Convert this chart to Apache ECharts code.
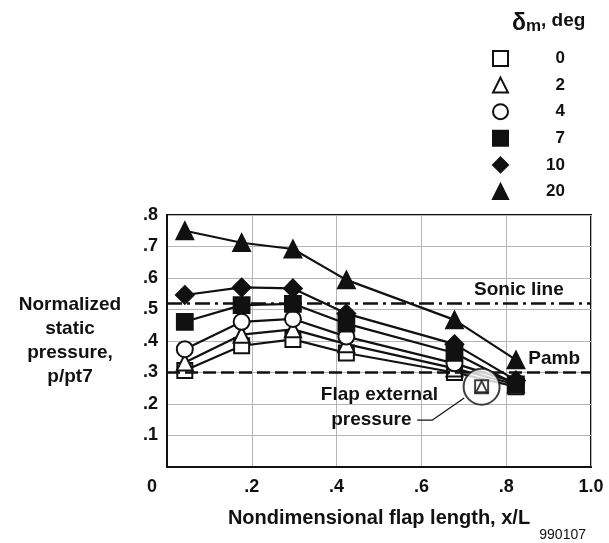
<!DOCTYPE html>
<html>
<head>
<meta charset="utf-8">
<script src="https://cdn.jsdelivr.net/npm/echarts@6/dist/echarts.min.js"></script>
<style>
  html, body { margin: 0; padding: 0; background: #fff; }
  #chart { width: 609px; height: 543px; }
</style>
</head>
<body>
<div id="chart"></div>
<script>
// nondimensional flap length stations
const xStations = [0.042, 0.176, 0.297, 0.423, 0.678, 0.823]

// normalized static pressure per mixer deflection (deg)
const p0 = [0.306, 0.385, 0.405, 0.362, 0.300, 0.255]
const p2 = [0.332, 0.420, 0.437, 0.390, 0.313, 0.262]
const p4 = [0.374, 0.461, 0.470, 0.414, 0.329, 0.268]
const p7 = [0.461, 0.514, 0.518, 0.455, 0.362, 0.262]
const p10 = [0.546, 0.570, 0.567, 0.487, 0.390, 0.275]
const p20 = [0.750, 0.712, 0.692, 0.594, 0.467, 0.340]

const deflections = ['0', '2', '4', '7', '10', '20']
const symbols = ['emptyRect', 'emptyTriangle', 'emptyCircle', 'rect', 'diamond', 'triangle']
const symbolSizes = [15, 16, 16, 16, 18, 17]
const pressures = [p0, p2, p4, p7, p10, p20]

// reference levels
const sonicLine = 0.523
const pambLine = 0.303

// flap external pressure point (circled)
const flapExtX = 0.742
const flapExtY = 0.255
const leaderX = [0.590, 0.626, 0.701]
const leaderY = [0.149, 0.149, 0.219]

const xTicks = ['0', '.2', '.4', '.6', '.8', '1.0']

const FONT = '"Liberation Sans", Arial, sans-serif'
const ink = '#111'

const chart = echarts.init(document.getElementById('chart'), null, { renderer: 'canvas' })

const series = deflections.map((d, i) => ({
  name: d,
  type: 'line',
  data: xStations.map((x, k) => [x, pressures[i][k]]),
  symbol: symbols[i],
  symbolSize: symbolSizes[i],
  showAllSymbol: true,
  lineStyle: { color: ink, width: 2.2 },
  itemStyle: { color: ink, borderColor: ink, borderWidth: 1.8 },
  z: 3 + i,
  silent: true,
  animation: false,
}))

series.push({
  name: 'refs',
  type: 'line',
  data: [],
  animation: false,
  markLine: {
    silent: true,
    symbol: 'none',
    label: { show: false },
    data: [
      { yAxis: sonicLine, lineStyle: { type: [15, 5, 3, 5], width: 2.5, color: ink } },
      { yAxis: pambLine, lineStyle: { type: [13, 5], width: 2.5, color: ink } },
    ],
  },
  markPoint: {
    silent: true,
    symbol: 'circle',
    symbolSize: 0,
    label: {
      show: true,
      color: ink,
      fontFamily: FONT,
      fontWeight: 'bold',
      fontSize: 19,
      formatter: (p) => p.name,
    },
    data: [
      { name: 'Sonic line', coord: [0.83, 0.562] },
      { name: 'Pamb', coord: [0.913, 0.343] },
      { name: 'Flap external', coord: [0.501, 0.229] },
      { name: 'pressure', coord: [0.482, 0.149] },
    ],
  },
})

series.push({
  name: 'leader',
  type: 'line',
  data: leaderX.map((x, k) => [x, leaderY[k]]),
  symbol: 'none',
  lineStyle: { color: ink, width: 1.2 },
  silent: true,
  animation: false,
})

series.push({
  name: 'flapExt',
  type: 'scatter',
  data: [
    { value: [flapExtX, flapExtY], symbol: 'emptyCircle', symbolSize: 36 },
    { value: [flapExtX, flapExtY], symbol: 'emptyRect', symbolSize: 13 },
    { value: [flapExtX, flapExtY], symbol: 'emptyTriangle', symbolSize: 11 },
  ],
  itemStyle: { color: ink, borderColor: ink, borderWidth: 1.8 },
  silent: true,
  animation: false,
  z: 10,
})

const option = {
  backgroundColor: '#fff',
  animation: false,
  textStyle: { fontFamily: FONT },
  title: [
    {
      text: '{d|δ}{m|m}{t|, deg}',
      left: 507,
      top: 1,
      textStyle: {
        rich: {
          d: { fontFamily: FONT, fontSize: 23, color: ink, verticalAlign: 'bottom' },
          m: { fontFamily: FONT, fontSize: 17, fontWeight: 'bold', color: ink, padding: [12, 0, 0, 0] },
          t: { fontFamily: FONT, fontSize: 19, fontWeight: 'bold', color: ink },
        },
      },
    },
    {
      text: '990107',
      right: 18,
      top: 523,
      textStyle: { fontFamily: FONT, fontSize: 14, fontWeight: 'normal', color: ink },
    },
  ],
  legend: {
    orient: 'vertical',
    left: 487,
    top: 45,
    itemWidth: 15,
    itemHeight: 15,
    itemGap: 9.6,
    selectedMode: false,
    data: deflections.map((d, i) => ({ name: d, icon: symbols[i] })),
    itemStyle: { color: ink, borderColor: ink },
    formatter: (name) => '{a|' + name + '}',
    textStyle: {
      rich: {
        a: { width: 52, align: 'right', fontFamily: FONT, fontSize: 17, fontWeight: 'bold', color: ink },
      },
    },
  },
  grid: {
    left: 167,
    right: 18,
    top: 215,
    bottom: 76,
    show: true,
    borderColor: ink,
    borderWidth: 2,
    containLabel: false,
  },
  xAxis: {
    type: 'value',
    min: 0,
    max: 1,
    interval: 0.2,
    name: 'Nondimensional flap length, x/L',
    nameLocation: 'middle',
    nameGap: 41,
    nameTextStyle: { fontFamily: FONT, fontSize: 20, fontWeight: 'bold', color: ink },
    axisLine: { show: true, lineStyle: { color: ink, width: 2 } },
    axisTick: { show: false },
    splitLine: { show: true, lineStyle: { color: '#b5b5b5', width: 1 } },
    axisLabel: {
      margin: 11,
      fontFamily: FONT,
      fontSize: 18,
      fontWeight: 'bold',
      color: ink,
      formatter: (v) => {
        const k = Math.round(v / 0.2)
        return k === 0 ? '{z|' + xTicks[k] + '}' : xTicks[k]
      },
      rich: {
        z: { fontFamily: FONT, fontSize: 18, fontWeight: 'bold', color: ink, padding: [0, 30, 0, 0] },
      },
    },
  },
  yAxis: {
    type: 'value',
    min: 0,
    max: 0.8,
    interval: 0.1,
    name: 'Normalized\nstatic\npressure,\np/pt7',
    nameLocation: 'middle',
    nameRotate: 0,
    nameGap: 97,
    nameTextStyle: {
      fontFamily: FONT,
      fontSize: 19,
      fontWeight: 'bold',
      color: ink,
      align: 'center',
      lineHeight: 24,
    },
    axisLine: { show: true, lineStyle: { color: ink, width: 2 } },
    axisTick: { show: false },
    splitLine: { show: true, lineStyle: { color: '#b5b5b5', width: 1 } },
    axisLabel: {
      margin: 9,
      fontFamily: FONT,
      fontSize: 18,
      fontWeight: 'bold',
      color: ink,
      formatter: (v) => (v === 0 ? '' : v.toFixed(1).replace(/^0/, '')),
    },
  },
  series,
}

chart.setOption(option)
</script>
</body>
</html>
